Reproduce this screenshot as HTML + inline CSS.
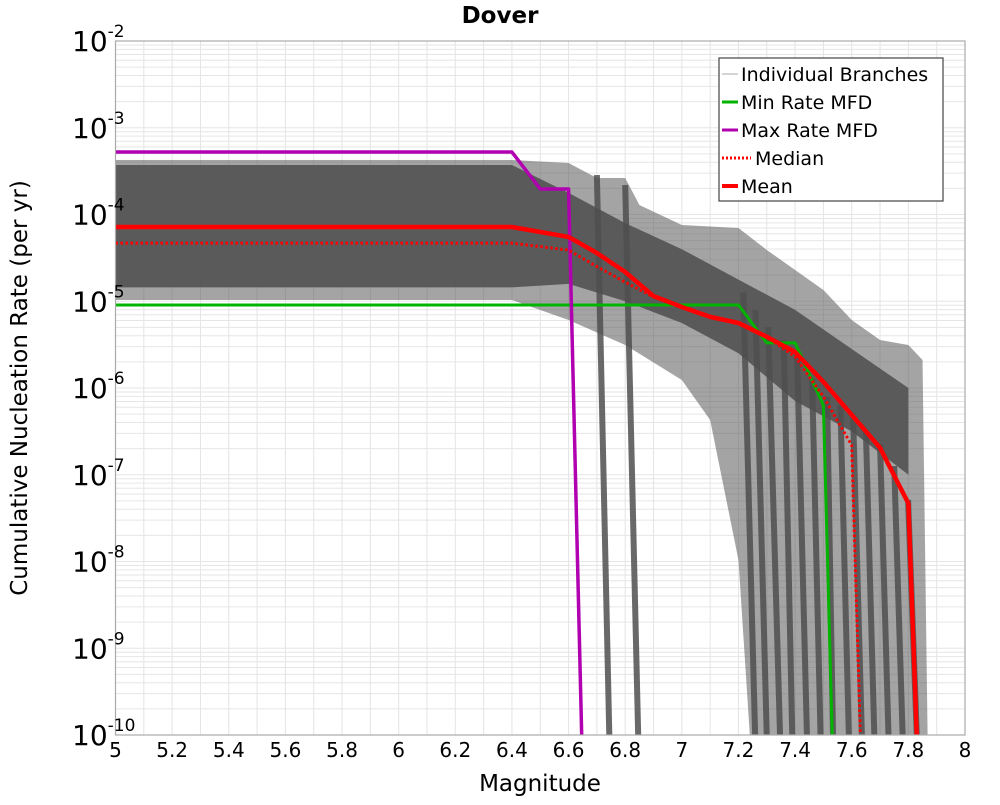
<!DOCTYPE html>
<html><head><meta charset="utf-8"><style>
body{margin:0;background:#fff;font-family:"Liberation Sans","DejaVu Sans",sans-serif}
svg text{font-family:"DejaVu Sans","Liberation Sans",sans-serif}
</style></head><body>
<svg id="c" width="1000" height="800" xmlns="http://www.w3.org/2000/svg">
<text x="500" y="23" text-anchor="middle" font-size="23" font-weight="bold">Dover</text>
<text x="540" y="791" text-anchor="middle" font-size="23">Magnitude</text>
<text transform="translate(27,388) rotate(-90)" text-anchor="middle" font-size="23">Cumulative Nucleation Rate (per yr)</text>
<g id="grid"></g><g id="marks"></g><g id="axes"></g>
<g>
<rect x="719" y="58" width="224" height="143" fill="#fff" stroke="#444" stroke-width="1.2"/>
<line x1="722" y1="74" x2="738" y2="74" stroke="#aaa" stroke-width="1"/>
<text x="741" y="81" font-size="19">Individual Branches</text>
<line x1="722" y1="102" x2="738" y2="102" stroke="#00b400" stroke-width="3"/>
<text x="741" y="109" font-size="19">Min Rate MFD</text>
<line x1="722" y1="130" x2="738" y2="130" stroke="#b000b0" stroke-width="3"/>
<text x="741" y="137" font-size="19">Max Rate MFD</text>
<line x1="722" y1="158" x2="751" y2="158" stroke="#f00" stroke-width="3" stroke-dasharray="2,2"/>
<text x="755" y="165" font-size="19">Median</text>
<line x1="722" y1="186" x2="738" y2="186" stroke="#f00" stroke-width="4"/>
<text x="741" y="193" font-size="19">Mean</text>
</g>
</svg>
<script>
const xTicks=[5,5.2,5.4,5.6,5.8,6,6.2,6.4,6.6,6.8,7,7.2,7.4,7.6,7.8,8];
const xTickLabels=["5","5.2","5.4","5.6","5.8","6","6.2","6.4","6.6","6.8","7","7.2","7.4","7.6","7.8","8"];
const yDecades=[-2,-3,-4,-5,-6,-7,-8,-9,-10];
const meanMag=[5,6.4,6.6,6.7,6.8,6.9,7.0,7.1,7.2,7.3,7.4,7.5,7.6,7.7,7.8,7.835];
const meanLog=[-4.144,-4.144,-4.259,-4.444,-4.663,-4.94,-5.066,-5.18,-5.25,-5.41,-5.585,-5.93,-6.31,-6.69,-7.33,-10.5];
const medianMag=[5,6.4,6.6,6.7,6.8,6.9,7.0,7.1,7.2,7.3,7.4,7.5,7.6,7.635];
const medianLog=[-4.33,-4.33,-4.41,-4.6,-4.78,-4.95,-5.07,-5.18,-5.26,-5.41,-5.64,-6.1,-6.66,-10.5];
const minMag=[5,7.2,7.3,7.4,7.5,7.535];
const minLog=[-5.043,-5.043,-5.48,-5.48,-6.2,-10.5];
const maxMag=[5,6.4,6.5,6.6,6.65];
const maxLog=[-3.28,-3.28,-3.706,-3.706,-10.5];
const bandMag=[5,6.4,6.6,6.7,6.8,6.85,7.0,7.2,7.3,7.5,7.6,7.7,7.8,7.85,7.87];
const bandUpperLog=[-3.372,-3.372,-3.406,-3.579,-3.579,-3.89,-4.121,-4.156,-4.409,-4.870,-5.216,-5.447,-5.504,-5.677,-10.5];
const bandLowerMag=[5,6.4,6.6,6.8,7.0,7.1,7.2,7.25];
const bandLowerLog=[-4.986,-4.986,-5.216,-5.504,-5.908,-6.369,-7.983,-10.5];
const coreMag=[5,6.4,6.6,6.8,7.0,7.2,7.4,7.6,7.8];
const coreUpperLog=[-3.43,-3.43,-3.75,-4.1,-4.4,-4.75,-5.1,-5.55,-6.0];
const coreLowerLog=[-4.84,-4.84,-4.8,-5.0,-5.25,-5.6,-6.15,-6.5,-7.0];
const dropTopMag=[6.70,6.80,7.217,7.26,7.305,7.36,7.407,7.46,7.513,7.56,7.605,7.65,7.70,7.75,7.799];
const dropBotMag=[6.744,6.846,7.259,7.30,7.347,7.39,7.442,7.49,7.534,7.59,7.636,7.68,7.73,7.78,7.83];
const dropTopLog=[-3.545,-3.66,-4.9,-5.1,-5.3,-5.45,-5.6,-5.9,-6.1,-6.2,-6.35,-6.5,-6.65,-6.9,-7.29];

const X0=115.5,X1=965,Y0=41,Y1=735;
const xs=m=>X0+(m-5)/3*(X1-X0);
const ys=l=>Y0+(-2-l)/8*(Y1-Y0);
const NS="http://www.w3.org/2000/svg";
function mk(parent,tag,attrs){const e=document.createElementNS(NS,tag);for(const k in attrs)e.setAttribute(k,attrs[k]);document.getElementById(parent).appendChild(e);return e;}
const grid=document.getElementById('grid');
const defs=document.createElementNS(NS,'defs');defs.innerHTML='<clipPath id="pc"><rect x="'+X0+'" y="'+Y0+'" width="'+(X1-X0)+'" height="'+(Y1-Y0)+'"/></clipPath>';
document.getElementById('c').insertBefore(defs,grid);
document.getElementById('marks').setAttribute('clip-path','url(#pc)');
for(let m=5;m<=8.001;m+=0.1){const l=mk('grid','line',{x1:xs(m),x2:xs(m),y1:Y0,y2:Y1,stroke:'#e4e4e4','stroke-width':1});

}
for(let d=-10;d<-2;d++){for(let k=1;k<10;k++){const l=d+Math.log10(k);const g=mk('grid','line',{x1:X0,x2:X1,y1:ys(l),y2:ys(l),stroke:'#e6e6e6','stroke-width':1});

}}
function pts(M,L){return M.map((m,i)=>xs(m)+','+ys(L[i])).join(' ');}
const band=mk('marks','polygon',{points:pts(bandMag,bandUpperLog)+' '+pts(bandLowerMag.slice().reverse(),bandLowerLog.slice().reverse()),fill:'#5a5a5a','fill-opacity':0.55});


const core=mk('marks','polygon',{points:pts(coreMag,coreUpperLog)+' '+pts(coreMag.slice().reverse(),coreLowerLog.slice().reverse()),fill:'#4e4e4e','fill-opacity':0.85});


dropTopMag.forEach((m,i)=>{const l=mk('marks','line',{x1:xs(m),y1:ys(dropTopLog[i]),x2:xs(dropBotMag[i]),y2:Y1+2,stroke:'#4f4f4f','stroke-width':6,'stroke-opacity':0.85});

});
function series(M,L,col,w,name,dash){const p=mk('marks','polyline',{points:pts(M,L),fill:'none',stroke:col,'stroke-width':w,'stroke-linejoin':'round'});if(dash)p.setAttribute('stroke-dasharray',dash);

}
series(minMag,minLog,'#00b400',3,'min-rate-line');
series(maxMag,maxLog,'#b000b0',3.5,'max-rate-line');
series(medianMag,medianLog,'#f00',3,'median-line','2.5,2.5');
series(meanMag,meanLog,'#f00',4.5,'mean-line');
const fr=mk('axes','rect',{x:X0,y:Y0,width:X1-X0,height:Y1-Y0,fill:'none',stroke:'#aaa','stroke-width':1.2});


xTicks.forEach((m,i)=>{const t=mk('axes','text',{x:xs(m),y:757,'text-anchor':'middle','font-size':20});t.textContent=xTickLabels[i];

});
yDecades.forEach(d=>{const t=mk('axes','text',{x:72,y:ys(d)+10,'font-size':28});t.innerHTML='10<tspan font-size="17" dy="-14">'+d+'</tspan>';

});
</script>
</body></html>
